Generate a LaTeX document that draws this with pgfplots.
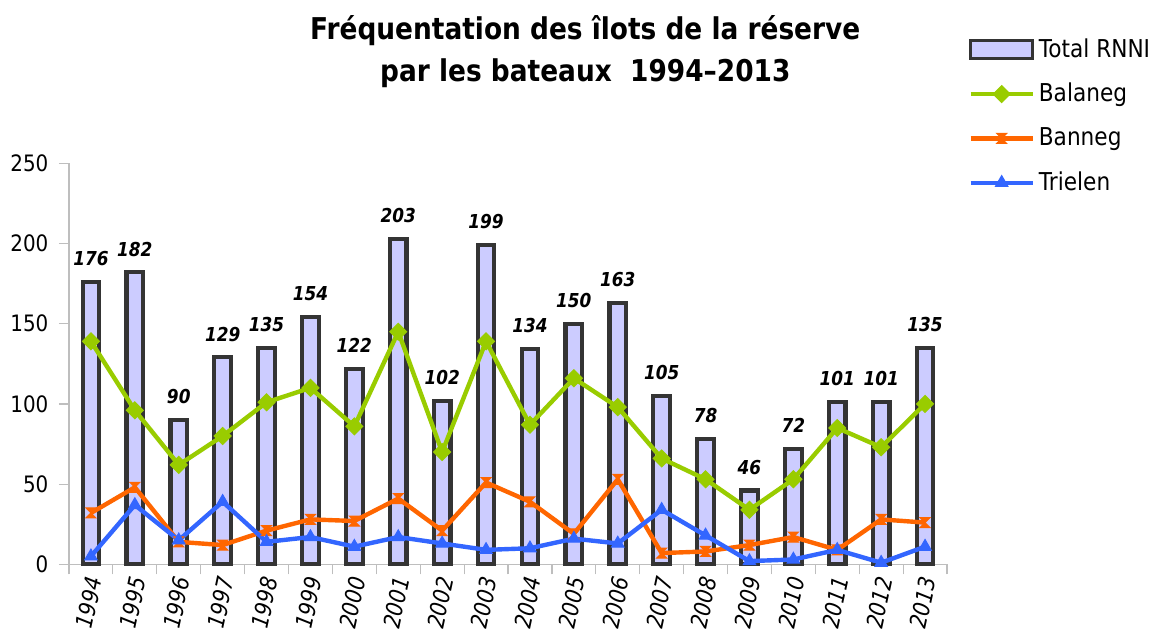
\documentclass[border=0pt]{standalone}
\usepackage{fontspec}
\setmainfont{DejaVu Sans}[FakeStretch=0.88]
\usepackage{pgfplots}
\pgfplotsset{compat=1.18}
\usepackage{pgfplotstable}

\definecolor{barFill}{RGB}{204,204,255}
\definecolor{barEdge}{RGB}{52,52,52}
\definecolor{balGreen}{RGB}{153,204,0}
\definecolor{banOrange}{RGB}{255,102,0}
\definecolor{triBlue}{RGB}{51,102,255}
\definecolor{axGray}{RGB}{190,190,190}

% sablier (marque de Banneg)
\pgfdeclareplotmark{hourglass}{%
  \pgfpathmoveto{\pgfqpoint{-\pgfplotmarksize}{\pgfplotmarksize}}%
  \pgfpathlineto{\pgfqpoint{\pgfplotmarksize}{\pgfplotmarksize}}%
  \pgfpathlineto{\pgfqpoint{-\pgfplotmarksize}{-\pgfplotmarksize}}%
  \pgfpathlineto{\pgfqpoint{\pgfplotmarksize}{-\pgfplotmarksize}}%
  \pgfpathclose
  \pgfusepathqfillstroke}

\pgfplotstableread{
idx total bal ban tri
0  176 139 32  5
1  182  96 48 37
2   90  62 14 15
3  129  80 12 39
4  135 101 21 14
5  154 110 28 17
6  122  86 27 11
7  203 145 41 17
8  102  70 21 13
9  199 139 51  9
10 134  87 39 10
11 150 116 19 16
12 163  98 53 13
13 105  66  7 34
14  78  53  8 18
15  46  34 12  2
16  72  53 17  3
17 101  85  9  9
18 101  73 28  1
19 135 100 26 11
}\freq

\begin{document}
\begin{tikzpicture}
\begin{axis}[
  name=ax, scale only axis, width=439pt, height=200.5pt,
  xmin=-0.5, xmax=19.5, ymin=0, ymax=250,
  clip=false,
  axis x line*=bottom, axis y line*=left,
  axis line style={draw=axGray, line width=0.6pt, -},
  xtick={-0.5,0.5,...,19.5}, x tick label as interval,
  xticklabels={1994,1995,1996,1997,1998,1999,2000,2001,2002,2003,2004,2005,2006,2007,2008,2009,2010,2011,2012,2013},
  ytick={0,50,...,250},
  tick align=outside, major tick length=5pt,
  tick style={draw=axGray, line width=0.6pt},
  x tick label style={font=\itshape\fontsize{11.5}{13}\selectfont, rotate=78, anchor=east, inner sep=1pt, yshift=-2pt},
  y tick label style={font=\fontsize{11.3}{13}\selectfont, xshift=-1.8pt},
  /pgf/number format/assume math mode=true,
  legend style={at={(1.024,1.322)}, anchor=north west, draw=none, fill=none,
    inner sep=0pt, font=\fontsize{12.3}{14}\selectfont, row sep=7.5pt,
    /tikz/every even column/.append style={column sep=3pt}},
  legend cell align=left,
  legend image code/.code={\draw[#1, mark repeat=2, mark phase=2]
    plot coordinates {(0pt,0pt) (15.5pt,0pt) (31pt,0pt)};},
]
\addplot[ybar, bar width=8.3pt, fill=barFill, draw=barEdge, line width=2.1pt,
  legend image code/.code={\draw[fill=barFill, draw=barEdge, line width=1.8pt]
    (0pt,-4.5pt) rectangle (31pt,4.5pt);},
  nodes near coords,
  nodes near coords style={font=\bfseries\itshape\fontsize{9.6}{11}\selectfont,
    text=black, anchor=south, inner sep=0pt, yshift=7pt}]
  table[x=idx, y=total] {\freq};
\addlegendentry{Total RNNI}

\addplot[balGreen, line width=2.2pt, mark=square*, mark size=3pt,
  mark options={rotate=45, line width=0.5pt, fill=balGreen}]
  table[x=idx, y=bal] {\freq};
\addlegendentry{Balaneg}

\addplot[banOrange, line width=2.2pt, mark=hourglass, mark size=2.5pt,
  mark options={line width=0.5pt, fill=banOrange}]
  table[x=idx, y=ban] {\freq};
\addlegendentry{Banneg}

\addplot[triBlue, line width=2.2pt, mark=triangle*, mark size=3.6pt,
  mark options={line width=0.5pt, fill=triBlue}]
  table[x=idx, y=tri] {\freq};
\addlegendentry{Trielen}

\node[font=\bfseries\fontsize{15}{21}\selectfont, align=center]
  at (rel axis cs:0.588,1.279) {Fréquentation des îlots de la réserve\\par les bateaux\ \ 1994–2013};
\end{axis}
\pgfresetboundingbox
\path ([shift={(-34.5pt,-31.85pt)}]ax.south west) rectangle ++(583pt,314pt);
\end{tikzpicture}
\end{document}
